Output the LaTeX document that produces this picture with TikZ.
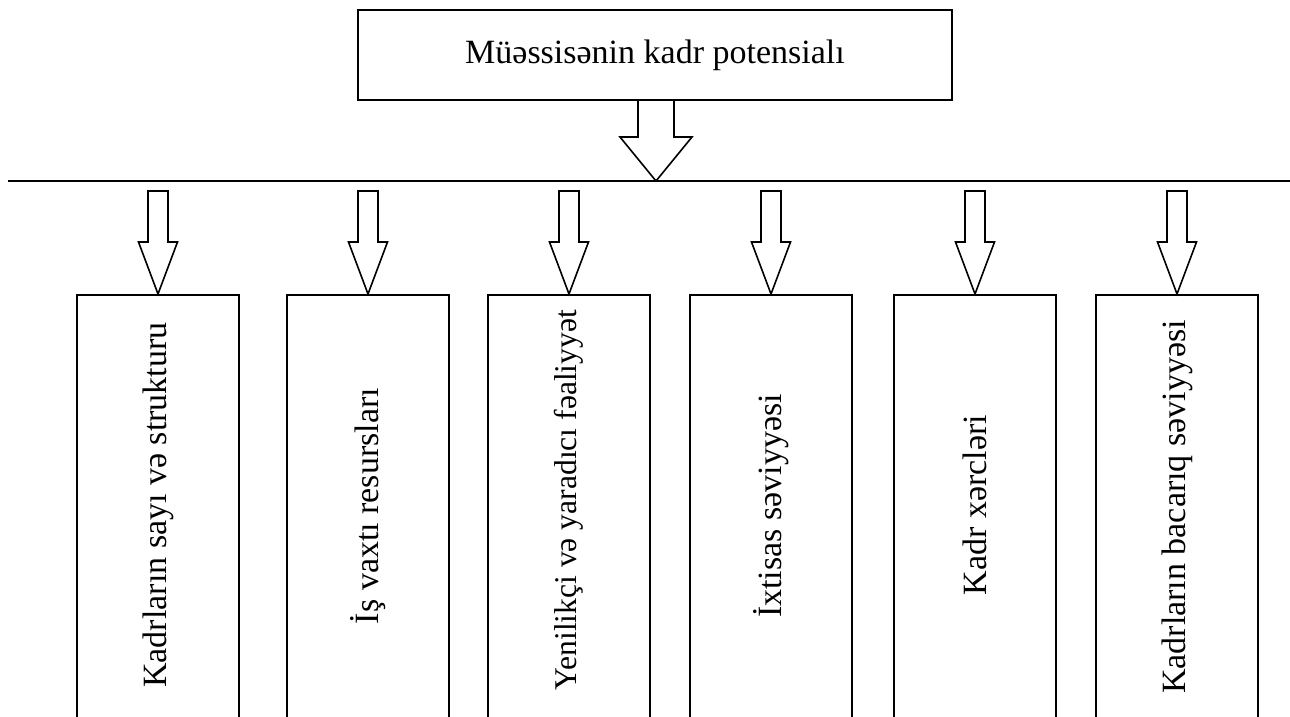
\documentclass[tikz,border=0pt]{standalone}
\usepackage{fontspec}
\setmainfont{Liberation Serif}
\usetikzlibrary{calc}
\newcommand{\blockarrow}[5]{%
  \draw[arrowline] ($(#1)+(-#3,0)$) -- ($(#2)+(-#3,-#5)$) -- ($(#2)+(-#4,-#5)$) -- (#2)
    -- ($(#2)+(#4,-#5)$) -- ($(#2)+(#3,-#5)$) -- ($(#1)+(#3,0)$) -- cycle;}
\begin{document}
\begin{tikzpicture}[x=0.5pt,y=-0.5pt,
  every node/.style={font=\fontsize{17}{20}\selectfont},
  topbox/.style={draw, line width=0.8pt, minimum width=297pt, minimum height=45pt, inner sep=0pt},
  itembox/.style={draw, line width=0.8pt, minimum width=81pt, minimum height=225pt, inner sep=0pt, anchor=north},
  itemtext/.style={rotate=90, inner sep=0pt},
  arrowline/.style={line width=0.8pt, line join=miter, fill=white},
  bar/.style={line width=0.8pt}]
\path[use as bounding box] (0,0) rectangle (1290,717);
\clip (0,0) rectangle (1290,717);
\fill[white] (0,0) rectangle (1290,717);

\node[topbox] (top) at (655,55) {Müəssisənin kadr potensialı};

\coordinate (hl) at (8,181);
\coordinate (hr) at (1292,181);
\coordinate (mtip) at (656,181);
\draw[bar] (hl) -- (hr);
\coordinate (mstart) at (656,100);
\blockarrow{mstart}{mtip}{18}{36}{44}

\foreach \i/\x/\y/\fs/\txt in {1/158/505/17/{Kadrların sayı və strukturu},
                        2/368/506/17/{İş vaxtı resursları},
                        3/569/500/15.8/{Yenilikçi və yaradıcı fəaliyyət},
                        4/771/506/17/{İxtisas səviyyəsi},
                        5/975/505/17/{Kadr xərcləri},
                        6/1177/507/17/{Kadrların bacarıq səviyyəsi}} {
  \node[itembox] (b\i) at (\x,294) {};
  \node[itemtext, font=\fontsize{\fs}{20}\selectfont] (t\i) at (\x,\y) {\txt};
  \coordinate (s\i) at (\x,191);
  \blockarrow{s\i}{b\i.north}{10}{19.5}{52}
}
\end{tikzpicture}
\end{document}
